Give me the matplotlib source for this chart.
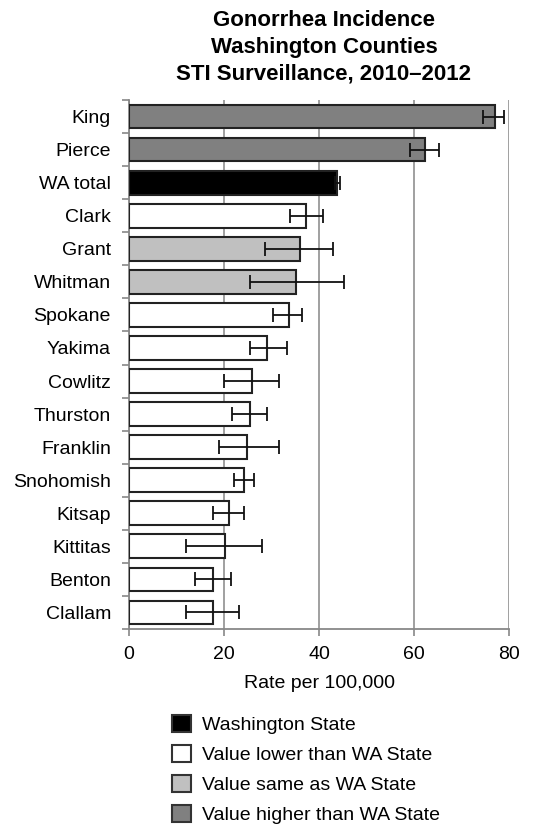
import matplotlib.pyplot as plt
import numpy as np
from matplotlib.patches import Patch

plt.rcParams['font.family'] = ['Liberation Sans', 'DejaVu Sans']

# data, top to bottom
counties = ['King', 'Pierce', 'WA total', 'Clark', 'Grant', 'Whitman', 'Spokane',
            'Yakima', 'Cowlitz', 'Thurston', 'Franklin', 'Snohomish', 'Kitsap',
            'Kittitas', 'Benton', 'Clallam']
rates = [77.0, 62.4, 43.8, 37.3, 36.0, 35.2, 33.7, 29.1, 25.9, 25.4, 24.9,
         24.3, 21.0, 20.3, 17.7, 17.7]
ci_low = [74.5, 59.1, 43.3, 33.9, 28.7, 25.4, 30.3, 25.4, 20.0, 21.7, 18.9,
          22.2, 17.6, 12.0, 13.9, 12.0]
ci_high = [79.0, 65.3, 44.4, 40.9, 42.9, 45.3, 36.5, 33.2, 31.5, 29.1, 31.5,
           26.3, 24.3, 28.0, 21.5, 23.1]
# 'wa', 'lower', 'same', 'higher'
category = ['higher', 'higher', 'wa', 'lower', 'same', 'same', 'lower', 'lower',
            'lower', 'lower', 'lower', 'lower', 'lower', 'lower', 'lower', 'lower']

colors = {'wa': '#000000', 'lower': '#ffffff', 'same': '#c0c0c0', 'higher': '#808080'}
legend_labels = {'wa': 'Washington State', 'lower': 'Value lower than WA State',
                 'same': 'Value same as WA State', 'higher': 'Value higher than WA State'}

fs = 14

fig = plt.figure(figsize=(5.38, 8.33), dpi=100)
ax = fig.add_axes([129 / 538, 1 - 629 / 833, 380 / 538, 529 / 833])

y = np.arange(len(counties))
rates = np.array(rates)
xerr = [rates - np.array(ci_low), np.array(ci_high) - rates]

ax.barh(y, rates, height=0.72, color=[colors[c] for c in category],
        edgecolor='#222222', linewidth=1.5, zorder=3)
ax.errorbar(rates, y, xerr=xerr, fmt='none', ecolor='#111111', elinewidth=1.3,
            capsize=5, capthick=1.3, zorder=4)

ax.set_xlim(0, 80)
ax.set_ylim(len(counties) - 0.5, -0.5)
ax.set_xticks([0, 20, 40, 60, 80])
ax.set_yticks(y)
ax.set_yticklabels(counties)
ax.set_yticks(np.arange(-0.5, len(counties), 1), minor=True)
ax.tick_params(axis='y', which='major', length=0, pad=13, labelsize=fs)
ax.tick_params(axis='y', which='minor', length=5, color='#888888', width=1.2)
ax.tick_params(axis='x', length=5, color='#888888', width=1.2, labelsize=fs, pad=7)
ax.grid(axis='x', color='#999999', linewidth=1.3, zorder=0)
for s in ['top', 'right']:
    ax.spines[s].set_visible(False)
for s in ['left', 'bottom']:
    ax.spines[s].set_color('#888888')
    ax.spines[s].set_linewidth(1.3)
ax.set_xlabel('Rate per 100,000', fontsize=fs, labelpad=9)

fig.text(324 / 538, 1 - 47 / 833,
         'Gonorrhea Incidence\nWashington Counties\nSTI Surveillance, 2010\u20132012',
         ha='center', va='center', fontsize=16, fontweight='bold', linespacing=1.35)

handles = [Patch(facecolor=colors[k], edgecolor='#333333', linewidth=1.5, label=legend_labels[k])
           for k in ['wa', 'lower', 'same', 'higher']]
fig.legend(handles=handles, loc='upper left', bbox_to_anchor=(154 / 538, 1 - 697 / 833),
           frameon=False, fontsize=fs, handlelength=1.0, handleheight=1.0,
           handletextpad=0.55, labelspacing=0.55)

fig.savefig('out.png', dpi=100)
